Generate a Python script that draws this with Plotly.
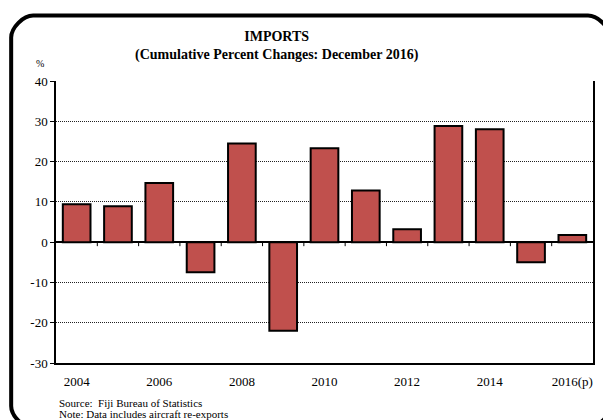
import plotly.graph_objects as go

years = ["2004", "2005", "2006", "2007", "2008", "2009", "2010",
         "2011", "2012", "2013", "2014", "2015", "2016(p)"]
values = [9.4, 8.9, 14.7, -7.5, 24.5, -22.0, 23.3, 12.8, 3.2, 28.8, 28.0, -5.0, 1.8]
label_years = ["2004", "2006", "2008", "2010", "2012", "2014", "2016(p)"]
y_ticks = [-30, -20, -10, 0, 10, 20, 30, 40]
y_tick_text = ["-30", "-20", "-10", "0", "10", "20", "30", "40"]

W, H = 603, 420
L, R, T, B = 56, 8, 81, 57
pw, ph = W - L - R, H - T - B

def px(x):
    return (x - L) / pw

def py(y):
    return (H - B - y) / ph

FONT = "Liberation Serif"

fig = go.Figure()
fig.add_trace(go.Bar(
    x=years, y=values,
    marker=dict(color="#C0504D", line=dict(color="black", width=2)),
    width=0.67,
))

# tick marks on the zero line at category boundaries
shapes = []
for i in range(len(years) - 1):
    shapes.append(dict(type="line", xref="x", yref="y",
                       x0=i + 0.5, x1=i + 0.5, y0=0, y1=-1.0,
                       line=dict(color="black", width=1)))

# rounded outer frame
x0, x1, y0, y1, r = 11, 612, 15.5, 428, 22
k = 0.45 * r
pts = [
    f"M {px(x0)},{py(y0 + r)}",
    f"C {px(x0)},{py(y0 + r - k)} {px(x0 + r - k)},{py(y0)} {px(x0 + r)},{py(y0)}",
    f"L {px(x1 - r)},{py(y0)}",
    f"C {px(x1 - r + k)},{py(y0)} {px(x1)},{py(y0 + r - k)} {px(x1)},{py(y0 + r)}",
    f"L {px(x1)},{py(y1 - r)}",
    f"C {px(x1)},{py(y1 - r + k)} {px(x1 - r + k)},{py(y1)} {px(x1 - r)},{py(y1)}",
    f"L {px(x0 + r)},{py(y1)}",
    f"C {px(x0 + r - k)},{py(y1)} {px(x0)},{py(y1 - r + k)} {px(x0)},{py(y1 - r)}",
    "Z",
]
shapes.append(dict(type="path", xref="paper", yref="paper", path=" ".join(pts),
                   line=dict(color="black", width=4), layer="above"))

annotations = [
    dict(text="<b>IMPORTS</b><br><b>(Cumulative Percent Changes: December 2016)</b>",
         xref="paper", yref="paper", x=px(278), y=py(46.5),
         xanchor="center", yanchor="middle", showarrow=False,
         font=dict(family=FONT, size=14, color="black")),
    dict(text="%", xref="paper", yref="paper", x=px(40), y=py(64),
         xanchor="center", yanchor="middle", showarrow=False,
         font=dict(family=FONT, size=10, color="black")),
    dict(text="Source:&nbsp; Fiji Bureau of Statistics",
         xref="paper", yref="paper", x=px(57), y=py(403),
         xanchor="left", yanchor="middle", align="left", showarrow=False,
         font=dict(family=FONT, size=11, color="black")),
    dict(text="Note: Data includes aircraft re-exports",
         xref="paper", yref="paper", x=px(57), y=py(414),
         xanchor="left", yanchor="middle", align="left", showarrow=False,
         font=dict(family=FONT, size=11, color="black")),
]

fig.update_layout(
    width=W, height=H,
    margin=dict(l=L, r=R, t=T, b=B, pad=0),
    paper_bgcolor="white", plot_bgcolor="white",
    showlegend=False,
    bargap=0.33,
    shapes=shapes,
    annotations=annotations,
    xaxis=dict(
        type="category",
        tickmode="array", tickvals=label_years, ticktext=label_years,
        ticks="", showgrid=False,
        showline=True, linecolor="black", linewidth=1.5,
        tickfont=dict(family=FONT, size=13, color="black"),
        ticklabelstandoff=6,
        range=[-0.5, len(years) - 0.5],
    ),
    yaxis=dict(
        range=[-30, 40], tickmode="array", tickvals=y_ticks, ticktext=y_tick_text,
        ticks="outside", ticklen=4, tickcolor="black",
        showline=True, linecolor="black", linewidth=1.5, mirror=True,
        showgrid=True, gridcolor="#222222", griddash="1px,1px", gridwidth=1,
        zeroline=True, zerolinecolor="black", zerolinewidth=1.5,
        tickfont=dict(family=FONT, size=13, color="black"),
    ),
)

fig.write_html("out.html", config={"displayModeBar": False},
               post_script="document.body.style.margin='0px';")
